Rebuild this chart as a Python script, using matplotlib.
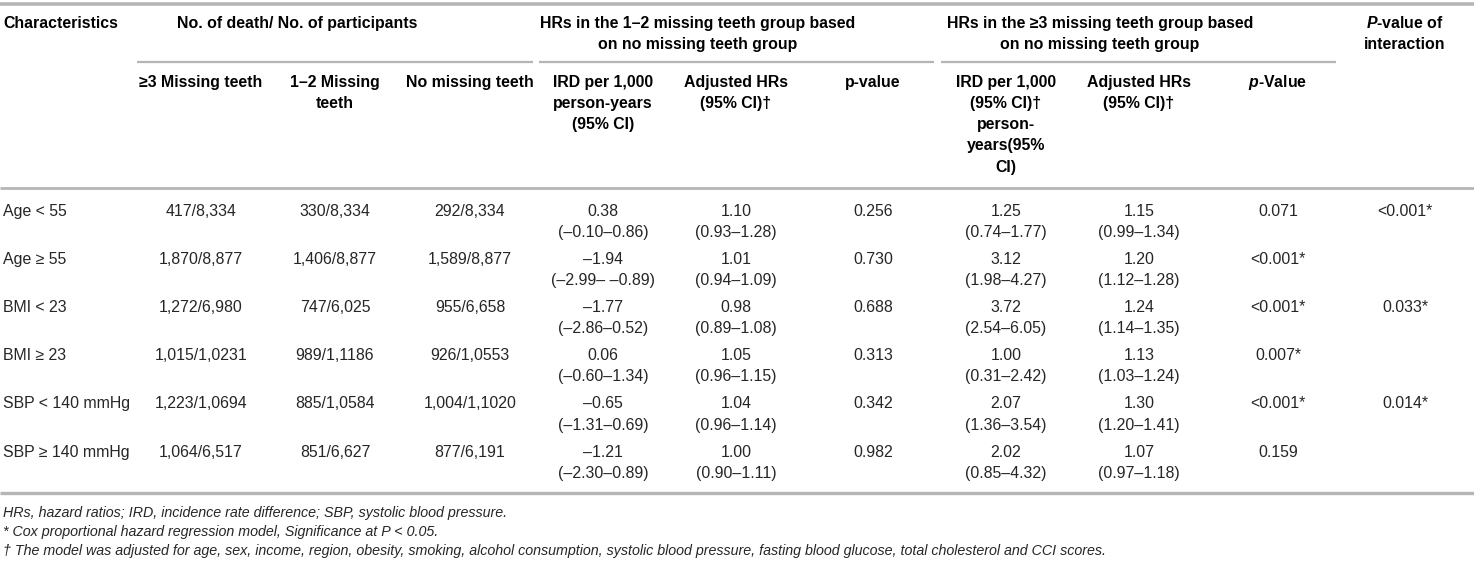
"""Rebuild the missing-teeth mortality subgroup table as a matplotlib figure."""

import matplotlib.pyplot as plt

plt.rcParams["font.family"] = ["Liberation Sans", "DejaVu Sans"]
plt.rcParams["mathtext.fontset"] = "custom"
plt.rcParams["mathtext.it"] = "Liberation Sans:italic:bold"
plt.rcParams["mathtext.rm"] = "Liberation Sans:bold"

characteristics = ["Age < 55", "Age ≥ 55", "BMI < 23", "BMI ≥ 23", "SBP < 140 mmHg", "SBP ≥ 140 mmHg"]
deaths_three_plus = ["417/8,334", "1,870/8,877", "1,272/6,980", "1,015/1,0231", "1,223/1,0694", "1,064/6,517"]
deaths_one_two = ["330/8,334", "1,406/8,877", "747/6,025", "989/1,1186", "885/1,0584", "851/6,627"]
deaths_none = ["292/8,334", "1,589/8,877", "955/6,658", "926/1,0553", "1,004/1,1020", "877/6,191"]
ird_one_two = ["0.38", "–1.94", "–1.77", "0.06", "–0.65", "–1.21"]
ird_one_two_ci = ["(–0.10–0.86)", "(–2.99– –0.89)", "(–2.86–0.52)", "(–0.60–1.34)", "(–1.31–0.69)", "(–2.30–0.89)"]
hr_one_two = ["1.10", "1.01", "0.98", "1.05", "1.04", "1.00"]
hr_one_two_ci = ["(0.93–1.28)", "(0.94–1.09)", "(0.89–1.08)", "(0.96–1.15)", "(0.96–1.14)", "(0.90–1.11)"]
p_one_two = ["0.256", "0.730", "0.688", "0.313", "0.342", "0.982"]
ird_three_plus = ["1.25", "3.12", "3.72", "1.00", "2.07", "2.02"]
ird_three_plus_ci = ["(0.74–1.77)", "(1.98–4.27)", "(2.54–6.05)", "(0.31–2.42)", "(1.36–3.54)", "(0.85–4.32)"]
hr_three_plus = ["1.15", "1.20", "1.24", "1.13", "1.30", "1.07"]
hr_three_plus_ci = ["(0.99–1.34)", "(1.12–1.28)", "(1.14–1.35)", "(1.03–1.24)", "(1.20–1.41)", "(0.97–1.18)"]
p_three_plus = ["0.071", "<0.001*", "<0.001*", "0.007*", "<0.001*", "0.159"]
p_interaction = ["<0.001*", "", "0.033*", "", "0.014*", ""]

group_headers = [
    ["No. of death/ No. of participants"],
    ["HRs in the 1–2 missing teeth group based", "on no missing teeth group"],
    ["HRs in the ≥3 missing teeth group based", "on no missing teeth group"],
]
column_headers = [
    ["≥3 Missing teeth"],
    ["1–2 Missing", "teeth"],
    ["No missing teeth"],
    ["IRD per 1,000", "person-years", "(95% CI)"],
    ["Adjusted HRs", "(95% CI)†"],
    ["p-value"],
    ["IRD per 1,000", "(95% CI)†", "person-", "years(95%", "CI)"],
    ["Adjusted HRs", "(95% CI)†"],
    [r"$p$-Value"],
]
footnotes = [
    "HRs, hazard ratios; IRD, incidence rate difference; SBP, systolic blood pressure.",
    "* Cox proportional hazard regression model, Significance at P < 0.05.",
    "† The model was adjusted for age, sex, income, region, obesity, smoking, alcohol consumption, "
    "systolic blood pressure, fasting blood glucose, total cholesterol and CCI scores.",
]

WIDTH, HEIGHT = 1474, 561
COLUMN_X = [201, 335, 470, 603, 736, 873, 1006, 1139, 1278]
INTERACTION_X = 1405
GROUP_SPANS = [(137, 533), (539, 934), (941, 1336)]
GROUP_TEXT_X = [297, 698, 1100]
LINE_STEP = 21.3
RULE_COLOR = "#b5b5b5"
BODY_COLOR = "#262626"


def main() -> None:
    """Draw the table with text and rules, then save it."""
    figure = plt.figure(figsize=(WIDTH / 100, HEIGHT / 100), dpi=100)
    axis = figure.add_axes([0, 0, 1, 1])
    axis.set_xlim(0, WIDTH)
    axis.set_ylim(HEIGHT, 0)
    axis.axis("off")

    _draw_header(axis)

    columns = [
        (deaths_three_plus, None), (deaths_one_two, None), (deaths_none, None),
        (ird_one_two, ird_one_two_ci), (hr_one_two, hr_one_two_ci), (p_one_two, None),
        (ird_three_plus, ird_three_plus_ci), (hr_three_plus, hr_three_plus_ci), (p_three_plus, None),
    ]
    body = dict(fontsize=11.4, color=BODY_COLOR, va="center")
    for row, label in enumerate(characteristics):
        y = 211 + 48.2 * row
        axis.text(3, y, label, ha="left", **body)
        for x, (values, intervals) in zip(COLUMN_X, columns):
            axis.text(x, y, values[row], ha="center", **body)
            if intervals is not None:
                axis.text(x, y + LINE_STEP, intervals[row], ha="center", **body)
        axis.text(INTERACTION_X, y, p_interaction[row], ha="center", **body)

    axis.plot([0, WIDTH], [493, 493], color=RULE_COLOR, lw=2.4, solid_capstyle="butt")
    for index, note in enumerate(footnotes):
        axis.text(3, 513 + 18.8 * index, note, ha="left", va="center", fontsize=10.3,
                  style="italic", color=BODY_COLOR)

    figure.savefig("out.png", dpi=100)


def _draw_header(axis) -> None:
    """Draw group headers, column headers and the rules around them."""
    head = dict(fontsize=11.4, fontweight="bold", color="black", va="center")
    axis.plot([0, WIDTH], [3.5, 3.5], color=RULE_COLOR, lw=2.6, solid_capstyle="butt")
    axis.text(3, 23, "Characteristics", ha="left", **head)
    for (left, right), text_x, lines in zip(GROUP_SPANS, GROUP_TEXT_X, group_headers):
        for index, line in enumerate(lines):
            axis.text(text_x, 23 + LINE_STEP * index, line, ha="center", **head)
        axis.plot([left, right], [62, 62], color=RULE_COLOR, lw=1.6, solid_capstyle="butt")
    axis.text(INTERACTION_X, 23, r"$P$-value of", ha="center", **head)
    axis.text(INTERACTION_X, 23 + LINE_STEP, "interaction", ha="center", **head)
    for x, lines in zip(COLUMN_X, column_headers):
        for index, line in enumerate(lines):
            axis.text(x, 82 + LINE_STEP * index, line, ha="center", **head)
    axis.plot([0, WIDTH], [188, 188], color=RULE_COLOR, lw=2.0, solid_capstyle="butt")


if __name__ == "__main__":
    main()
